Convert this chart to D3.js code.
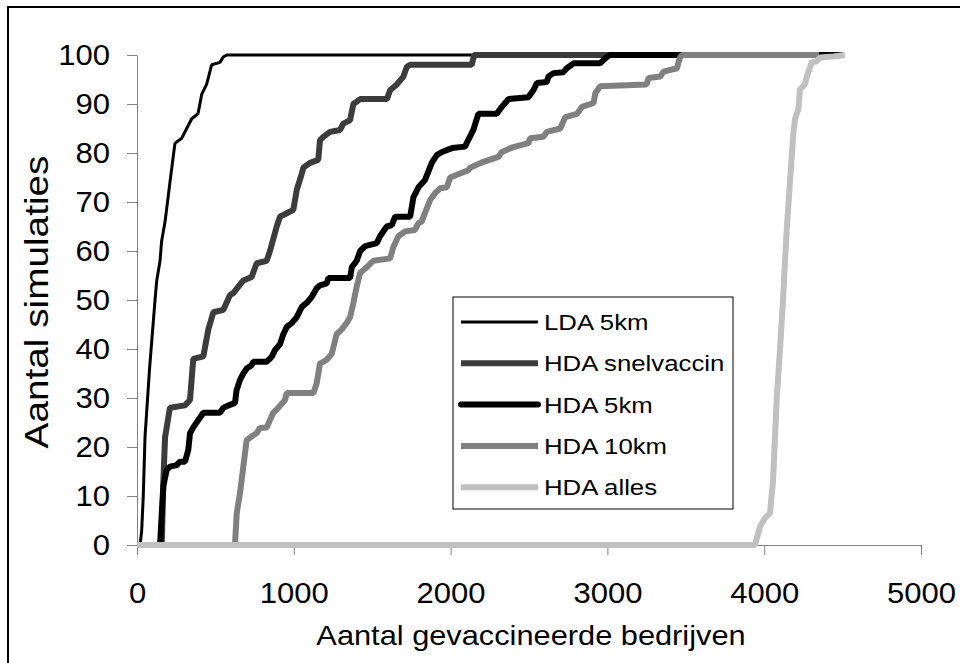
<!DOCTYPE html>
<html lang="nl">
<head>
  <meta charset="UTF-8">
  <title>Aantal gevaccineerde bedrijven</title>
  <script type="text/javascript" src="https://cdn.jsdelivr.net/npm/d3@7/dist/d3.min.js"></script>
  <style type="text/css">
  body {
    margin: 0;
    padding: 0;
    background: #fff;
  }
  svg {
    display: block;
    font-family: "Liberation Sans", Arial, sans-serif;
  }
  .axis path, .axis line {
    stroke: #808080;
    stroke-width: 1px;
  }
  .axis text {
    fill: #000;
    font-size: 29px;
  }
  .xLabel {
    fill: #000;
    font-size: 27px;
  }
  .yLabel {
    fill: #000;
    font-size: 34px;
  }
  .legend text {
    font-size: 23px;
    fill: #000;
  }
  </style>
</head>
<body>
  <div id="chart"></div>
<script type="text/javascript">
  var width = 960, height = 663;

  // waarden: [aantal bedrijven, aantal simulaties]
  var ldaX = [20, 30, 40, 51, 80, 115, 126, 147, 157, 179, 210, 242, 285, 317, 349, 389, 413, 444, 476, 529, 550, 572, 4500];
  var ldaY = [0, 3, 10, 22, 36, 50, 54, 58, 62, 66, 74, 82, 83, 85, 87, 88, 92, 94, 98, 98.5, 99.6, 100, 100];

  var snelX = [150, 158, 168, 179, 210, 306, 338, 359, 423, 455, 487, 551, 593, 614, 678, 731, 763, 827, 848, 891, 912, 955, 997, 1019, 1051, 1061, 1103, 1156, 1167, 1188, 1231, 1295, 1316, 1359, 1380, 1423, 1594, 1614, 1657, 1699, 1721, 1742, 2135, 2150, 4500];
  var snelY = [0, 0, 13, 22, 28, 28.5, 29.6, 38, 38.5, 44, 47.5, 48, 51, 51.4, 54, 54.7, 57.5, 58, 60, 65, 67, 67.7, 68.4, 72.5, 75.8, 77, 78, 78.6, 82.6, 83.3, 84.3, 84.7, 86, 86.7, 90, 91, 91, 92.8, 94, 95.6, 97.6, 98, 98, 100, 100];

  var hda5X = [140, 147, 158, 168, 189, 210, 253, 274, 306, 327, 338, 359, 391, 423, 529, 551, 593, 625, 635, 657, 678, 699, 731, 742, 827, 859, 880, 912, 933, 955, 987, 1019, 1051, 1082, 1114, 1146, 1167, 1210, 1221, 1359, 1370, 1401, 1423, 1455, 1529, 1550, 1593, 1625, 1646, 1742, 1763, 1795, 1837, 1880, 1913, 1945, 2009, 2092, 2113, 2145, 2177, 2294, 2326, 2369, 2496, 2528, 2550, 2614, 2624, 2656, 2720, 2741, 2784, 2953, 2996, 3017, 4500];
  var hda5Y = [0, 0, 6.5, 12, 15.3, 16, 16.3, 17, 17, 19.4, 22.8, 24, 25.5, 27, 27, 28, 28.6, 29, 31.6, 33.7, 35, 36, 36.7, 37.4, 37.4, 38.4, 39.8, 41, 43, 44.5, 45.3, 46.5, 48.6, 49.4, 50.6, 52.4, 53, 53.4, 54.5, 54.5, 56.7, 58, 60, 61, 61.6, 63, 65, 65.3, 67, 67, 71, 73, 74.5, 78, 79.6, 80.2, 81, 81.3, 82.7, 84.7, 88, 88, 89.4, 91, 91.4, 92.8, 94.3, 94.5, 95.6, 96.3, 96.5, 97.3, 98.3, 98.3, 99.6, 100, 100];

  var hda10X = [620, 625, 636, 657, 678, 699, 742, 763, 784, 827, 848, 869, 901, 944, 955, 1125, 1146, 1167, 1210, 1242, 1273, 1306, 1337, 1359, 1380, 1401, 1423, 1465, 1507, 1614, 1635, 1667, 1710, 1773, 1795, 1816, 1837, 1869, 1901, 1933, 1976, 1997, 2060, 2113, 2124, 2209, 2305, 2326, 2400, 2496, 2507, 2592, 2614, 2699, 2731, 2806, 2838, 2912, 2923, 2953, 3250, 3263, 3337, 3358, 3444, 3454, 3463, 3475, 4350];
  var hda10Y = [0, 0, 6.5, 10.6, 16, 21.4, 22.4, 22.8, 23.9, 24, 25.5, 27, 28, 29.6, 31, 31, 33, 37, 37.8, 39, 43, 44, 45.3, 46.5, 49.4, 52.7, 55.5, 56.7, 58, 58.5, 60.8, 63, 64, 64.3, 65.7, 66, 67.8, 70.4, 71.8, 72.8, 73, 75, 75.8, 76.5, 77, 78.2, 79.2, 80.2, 81.2, 82, 83, 83.3, 84.3, 85, 87.3, 88, 89.4, 90.2, 92.2, 93.6, 94, 95.3, 95.6, 96.6, 97.3, 98.6, 99.4, 100, 100];

  var allesX = [0, 3941, 3973, 4005, 4037, 4056, 4080, 4101, 4120, 4143, 4165, 4186, 4197, 4218, 4228, 4260, 4271, 4292, 4303, 4335, 4356, 4440, 4515];
  var allesY = [0, 0, 3.7, 5.5, 6.5, 13, 30, 40, 50, 64, 74.5, 84, 87, 89, 93, 94, 95.5, 97.5, 98.5, 98.7, 99.5, 99.7, 100];

  var seriesNames = ['LDA 5km', 'HDA snelvaccin', 'HDA 5km', 'HDA 10km', 'HDA alles'];
  var seriesX = [ldaX, snelX, hda5X, hda10X, allesX];
  var seriesY = [ldaY, snelY, hda5Y, hda10Y, allesY];
  var seriesColors = ['#000000', '#3c3c3c', '#000000', '#808080', '#c0c0c0'];
  var seriesWidths = [3, 6, 6, 6, 6];

  var xTicks = [0, 1000, 2000, 3000, 4000, 5000];
  var yTicks = [0, 10, 20, 30, 40, 50, 60, 70, 80, 90, 100];

  // de tekst in het origineel is breder dan Arial
  var stretch = 1.14;

  var svg = d3.select('#chart')
    .append('svg')
    .attr('width', width)
    .attr('height', height);

  // kader rond de hele figuur
  svg.append('rect')
    .attr('x', 8)
    .attr('y', 7)
    .attr('width', 1000)
    .attr('height', 1000)
    .attr('fill', 'none')
    .attr('stroke', '#000')
    .attr('stroke-width', 2);

  var xScale = d3.scaleLinear()
    .domain([0, 5000])
    .range([137, 921]);

  var yScale = d3.scaleLinear()
    .domain([0, 100])
    .range([545, 55]);

  var xAxis = d3.axisBottom(xScale)
    .tickValues(xTicks)
    .tickSize(10)
    .tickSizeOuter(0)
    .tickPadding(27)
    .tickFormat(d3.format('d'));

  var yAxis = d3.axisLeft(yScale)
    .tickValues(yTicks)
    .tickSize(10)
    .tickSizeOuter(0)
    .tickPadding(17)
    .tickFormat(d3.format('d'));

  var xAxisG = svg.append('g')
    .attr('class', 'axis')
    .attr('transform', 'translate(0,' + yScale(0) + ')')
    .call(xAxis);

  var yAxisG = svg.append('g')
    .attr('class', 'axis')
    .attr('transform', 'translate(' + xScale(0) + ',0)')
    .call(yAxis);

  // tick labels wat breder maken
  svg.selectAll('.axis .tick text').each(function(){
    var t = d3.select(this);
    var tx = +t.attr('x') || 0, ty = +t.attr('y') || 0;
    t.attr('x', 0).attr('y', 0)
      .attr('transform', 'translate(' + tx + ',' + ty + ') scale(1.07,1)');
  });

  var line = d3.line()
    .x(function(d){ return xScale(d[0]); })
    .y(function(d){ return yScale(d[1]); });

  seriesNames.forEach(function(name, i){
    var pts = seriesX[i].map(function(x, j){ return [x, seriesY[i][j]]; });
    svg.append('path')
      .datum(pts)
      .attr('d', line)
      .attr('fill', 'none')
      .attr('stroke', seriesColors[i])
      .attr('stroke-width', seriesWidths[i])
      .attr('stroke-linejoin', 'bevel');
  });

  // aslabels
  svg.append('text')
    .attr('class', 'xLabel')
    .attr('transform', 'translate(' + ((xScale(0) + xScale(5000)) / 2 + 2) + ',645) scale(' + stretch + ',1)')
    .attr('text-anchor', 'middle')
    .text('Aantal gevaccineerde bedrijven');

  svg.append('text')
    .attr('class', 'yLabel')
    .attr('transform', 'translate(48,302) rotate(-90) scale(' + stretch + ',1)')
    .attr('text-anchor', 'middle')
    .text('Aantal simulaties');

  // legenda
  var legend = svg.append('g').attr('class', 'legend');
  legend.append('rect')
    .attr('x', 453)
    .attr('y', 297)
    .attr('width', 280)
    .attr('height', 212)
    .attr('fill', '#fff')
    .attr('stroke', '#000')
    .attr('stroke-width', 1);

  seriesNames.forEach(function(name, i){
    var ly = 322 + i * 41.3;
    legend.append('line')
      .attr('x1', 461)
      .attr('x2', 538)
      .attr('y1', ly)
      .attr('y2', ly)
      .attr('stroke', seriesColors[i])
      .attr('stroke-width', seriesWidths[i])
      .attr('stroke-linecap', i == 2 ? 'round' : 'butt');
    legend.append('text')
      .attr('transform', 'translate(544,' + ly + ') scale(1.12,1)')
      .attr('dy', '0.35em')
      .text(name);
  });
</script>
</body>
</html>
